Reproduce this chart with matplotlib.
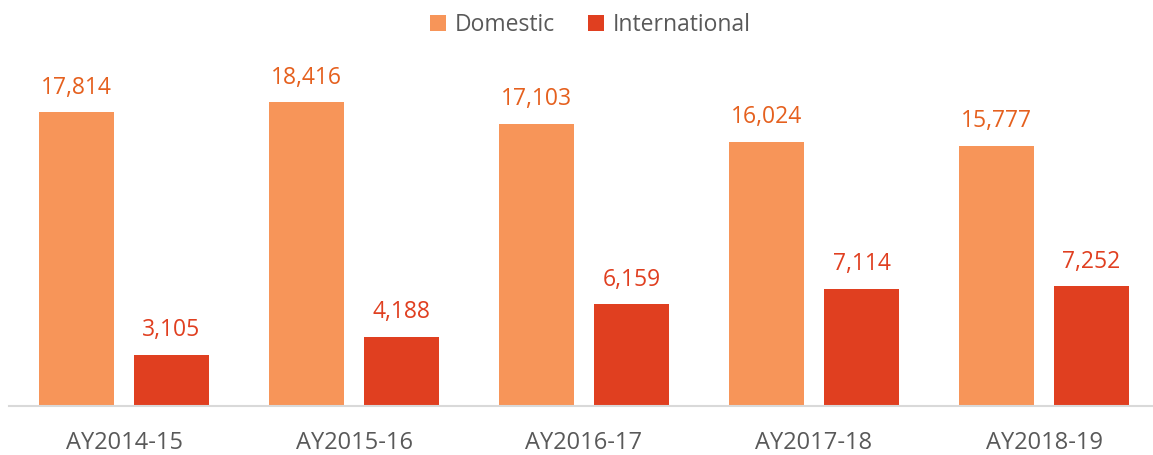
import matplotlib
matplotlib.use("Agg")
import matplotlib.pyplot as plt
import numpy as np

categories = ["AY2014-15", "AY2015-16", "AY2016-17", "AY2017-18", "AY2018-19"]
domestic = [17814, 18416, 17103, 16024, 15777]
international = [3105, 4188, 6159, 7114, 7252]

plt.rcParams['font.family'] = ['Open Sans', 'DejaVu Sans']

W, H = 1153, 455
fig = plt.figure(figsize=(W/100, H/100), dpi=100)
ax = fig.add_axes([9/W, (H-406)/H, (1159-9)/W, (406-46)/H])

x = np.arange(len(categories))
bw = 0.326
off = (bw + 0.087) / 2
c_dom = "#F79559"
c_int = "#E03F20"
b1 = ax.bar(x - off, domestic, bw, color=c_dom, label="Domestic", zorder=2)
b2 = ax.bar(x + off, international, bw, color=c_int, label="International", zorder=2)

for rect, v in zip(b1, domestic):
    ax.annotate(f"{v:,}", (rect.get_x() + rect.get_width()/2, v), xytext=(0, 9),
                textcoords="offset points", ha="center", va="bottom",
                fontsize=16.5, color="#E5601E")
for rect, v in zip(b2, international):
    ax.annotate(f"{v:,}", (rect.get_x() + rect.get_width()/2, v), xytext=(0, 9),
                textcoords="offset points", ha="center", va="bottom",
                fontsize=16.5, color="#E03F20")

ax.set_xlim(-0.5, len(categories) - 0.5)
ax.set_ylim(0, 360 / (294 / 17814))
ax.set_xticks(x)
ax.set_xticklabels(categories, fontsize=17, color="#595959")
ax.tick_params(axis="x", length=0, pad=18)
ax.set_yticks([])
for s in ["top", "right", "left"]:
    ax.spines[s].set_visible(False)
ax.spines["bottom"].set_color("#D9D9D9")
ax.spines["bottom"].set_linewidth(1.5)

leg = fig.legend(loc="upper center", bbox_to_anchor=(0.512, 1.017), ncol=2, frameon=False,
                 fontsize=16.5, handlelength=0.7, handleheight=0.7, columnspacing=1.4,
                 handletextpad=0.4)
for t in leg.get_texts():
    t.set_color("#595959")

fig.savefig("out.png", dpi=100)
